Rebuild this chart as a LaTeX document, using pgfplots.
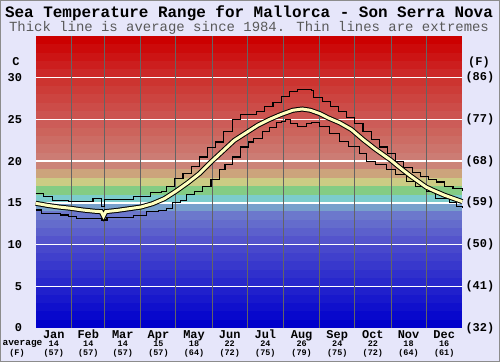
\documentclass[border=0pt]{standalone}
\usepackage{pgfplots}
\pgfplotsset{compat=1.18}
\usepackage{pgfplotstable}
\usepackage{fontspec}
\setmainfont{Liberation Mono}

\definecolor{bgc}{RGB}{230,230,250}
\definecolor{cream}{RGB}{255,255,190}
\definecolor{mgrid}{RGB}{100,100,100}
\definecolor{band0}{RGB}{0,0,204}
\definecolor{band1}{RGB}{8,8,204}
\definecolor{band2}{RGB}{16,16,204}
\definecolor{band3}{RGB}{24,24,204}
\definecolor{band4}{RGB}{32,32,204}
\definecolor{band5}{RGB}{40,40,204}
\definecolor{band6}{RGB}{48,48,204}
\definecolor{band7}{RGB}{56,56,204}
\definecolor{band8}{RGB}{64,64,204}
\definecolor{band9}{RGB}{72,72,204}
\definecolor{band10}{RGB}{84,84,204}
\definecolor{band11}{RGB}{92,96,204}
\definecolor{band12}{RGB}{100,108,204}
\definecolor{band13}{RGB}{108,120,204}
\definecolor{band14}{RGB}{120,160,204}
\definecolor{band15}{RGB}{124,204,204}
\definecolor{band16}{RGB}{132,204,132}
\definecolor{band17}{RGB}{204,204,132}
\definecolor{band18}{RGB}{204,164,124}
\definecolor{band19}{RGB}{204,132,120}
\definecolor{band20}{RGB}{204,124,116}
\definecolor{band21}{RGB}{204,116,108}
\definecolor{band22}{RGB}{204,108,100}
\definecolor{band23}{RGB}{204,100,92}
\definecolor{band24}{RGB}{204,92,88}
\definecolor{band25}{RGB}{204,84,80}
\definecolor{band26}{RGB}{204,76,72}
\definecolor{band27}{RGB}{204,68,64}
\definecolor{band28}{RGB}{204,60,56}
\definecolor{band29}{RGB}{204,52,48}
\definecolor{band30}{RGB}{204,40,40}
\definecolor{band31}{RGB}{204,30,30}
\definecolor{band32}{RGB}{204,20,20}
\definecolor{band33}{RGB}{204,10,10}
\definecolor{band34}{RGB}{204,0,0}

\pgfplotstableread{
day t
0 16.1
7 15.75
14 15.3
28 15.2
49 15.5
56 14.6
59 15.4
84 15.75
98 16.2
108 16.4
112 17.0
119 17.9
126 18.5
133 19.4
140 20.5
147 21.6
154 22.3
161 23.5
168 25.0
175 25.6
189 25.9
196 26.6
203 27.0
210 27.7
217 28.4
224 28.6
236 28.5
238 27.6
245 27.2
252 26.5
259 26.0
266 25.2
273 24.5
280 23.5
287 22.6
294 21.7
301 20.9
308 20.0
315 19.2
322 18.6
329 18.2
336 17.8
343 17.5
350 17.0
357 16.7
365 16.4
}\maxdata

\pgfplotstableread{
day t
0 14.15
5 13.75
21 13.55
28 13.4
35 13.15
56 12.95
61 13.27
84 13.5
95 13.95
105 14.1
112 14.35
117 15.0
124 15.3
129 15.95
136 16.4
143 16.95
150 17.75
157 18.95
162 19.6
168 20.5
175 21.7
182 22.3
186 22.7
194 23.5
200 24.0
206 24.6
210 24.8
214 25.0
218 24.5
224 24.2
232 24.5
236 24.6
243 24.15
251 23.35
260 22.35
268 21.75
277 20.95
283 19.95
291 19.55
300 18.95
308 18.35
317 17.55
325 16.95
334 16.35
342 15.55
354 15.0
360 14.55
365 14.35
}\mindata

\pgfplotstableread{
day t
0 14.95
10 14.7
20 14.5
30 14.35
40 14.15
50 14.0
56 13.95
58 13.4
60 13.95
70 14.1
80 14.3
90 14.5
100 14.9
110 15.5
120 16.4
130 17.4
140 18.5
150 19.9
160 21.2
170 22.5
180 23.4
190 24.3
200 25.0
210 25.6
220 26.1
228 26.25
235 26.1
243 25.7
250 25.2
260 24.6
270 23.8
280 22.6
290 21.5
300 20.5
304 20.1
310 19.4
320 18.3
334 16.9
340 16.5
350 15.9
365 15.15
}\avgdata

\begin{document}
\begin{tikzpicture}
\begin{scope}[x=1bp,y=1bp]
\fill[bgc] (-35.7,-34) rectangle (464.3,328);
\draw[black!45, line width=1bp] (-35.2,-33.5) rectangle (463.8,327.5);
\foreach \k in {0,...,34} {
  \fill[band\k] (0,{\k*8.342857}) rectangle (426.6,{\k*8.342857+8.342857});
}
\node[font=\fontsize{16}{18}\selectfont\bfseries] at (213.3,315) {Sea Temperature Range for Mallorca - Son Serra Nova};
\node[font=\fontsize{14}{16}\selectfont, text=black!65] at (213.3,300.5) {Thick line is average since 1984. Thin lines are extremes};
\node[font=\fontsize{12}{12}\selectfont\bfseries] at (-19.7,266) {C};
\node[font=\fontsize{12}{12}\selectfont\bfseries] at (443.3,266) {(F)};
\node[font=\fontsize{9.5}{10}\selectfont\bfseries, inner sep=0pt] at (-13.2,-15.5) {average};
\node[font=\fontsize{8.5}{9}\selectfont\bfseries, inner sep=0pt] at (-18.7,-25) {(F)};
\end{scope}
\begin{axis}[
  at={(0,0)}, anchor=south west,
  scale only axis, width=426.6bp, height=292bp,
  xmin=0, xmax=365, ymin=0, ymax=35,
  axis line style={draw=none},
  major tick length=0pt,
  /pgf/number format/assume math mode=true,
  ytick={5,10,...,30},
  extra y ticks={0},
  extra y tick style={grid=none},
  ymajorgrids,
  major grid style={white, line width=1.4bp},
  yticklabel style={font=\fontsize{12}{12}\selectfont\bfseries, anchor=east, inner sep=0pt, xshift=-13.5bp},
  xtick={15.5,45,74.5,105,135.5,166,196.5,227.5,258,288.5,319,349.5},
  xticklabels={Jan,Feb,Mar,Apr,May,Jun,Jul,Aug,Sep,Oct,Nov,Dec},
  xticklabel style={font=\fontsize{12}{12}\selectfont\bfseries, anchor=north, inner sep=0pt, yshift=-2bp},
  extra x ticks={31,59,90,120,151,181,212,243,273,304,334},
  extra x tick labels={},
  extra x tick style={grid=major, major grid style={draw=mgrid, line width=1bp}},
  clip=false,
]
\addplot[const plot, black, line width=1.1bp] table[x=day,y=t] {\maxdata};
\addplot[const plot, black, line width=1.1bp] table[x=day,y=t] {\mindata};
\addplot[black, line width=5bp] table[x=day,y=t] {\avgdata};
\addplot[cream, line width=3bp] table[x=day,y=t] {\avgdata};

\foreach \v/\f in {0/32,5/41,10/50,15/59,20/68,25/77,30/86} {
  \edef\tmp{\noexpand\node[anchor=west, inner sep=0pt, xshift=3bp, font=\noexpand\fontsize{12}{12}\noexpand\selectfont\noexpand\bfseries] at (axis cs:365,\v) {(\f)};}
  \tmp
}
\foreach \x/\c/\f in {15.5/14/57,45/14/57,74.5/14/57,105/15/57,135.5/18/64,166/22/72,196.5/24/75,227.5/26/79,258/24/75,288.5/22/72,319/18/64,349.5/16/61} {
  \edef\tmp{\noexpand\node[inner sep=0pt, font=\noexpand\fontsize{8.5}{9}\noexpand\selectfont\noexpand\bfseries] at (axis cs:\x,0) [yshift=-15.8bp] {\c};
  \noexpand\node[inner sep=0pt, font=\noexpand\fontsize{8.5}{9}\noexpand\selectfont\noexpand\bfseries] at (axis cs:\x,0) [yshift=-25bp] {(\f)};}
  \tmp
}
\end{axis}
\end{tikzpicture}
\end{document}
